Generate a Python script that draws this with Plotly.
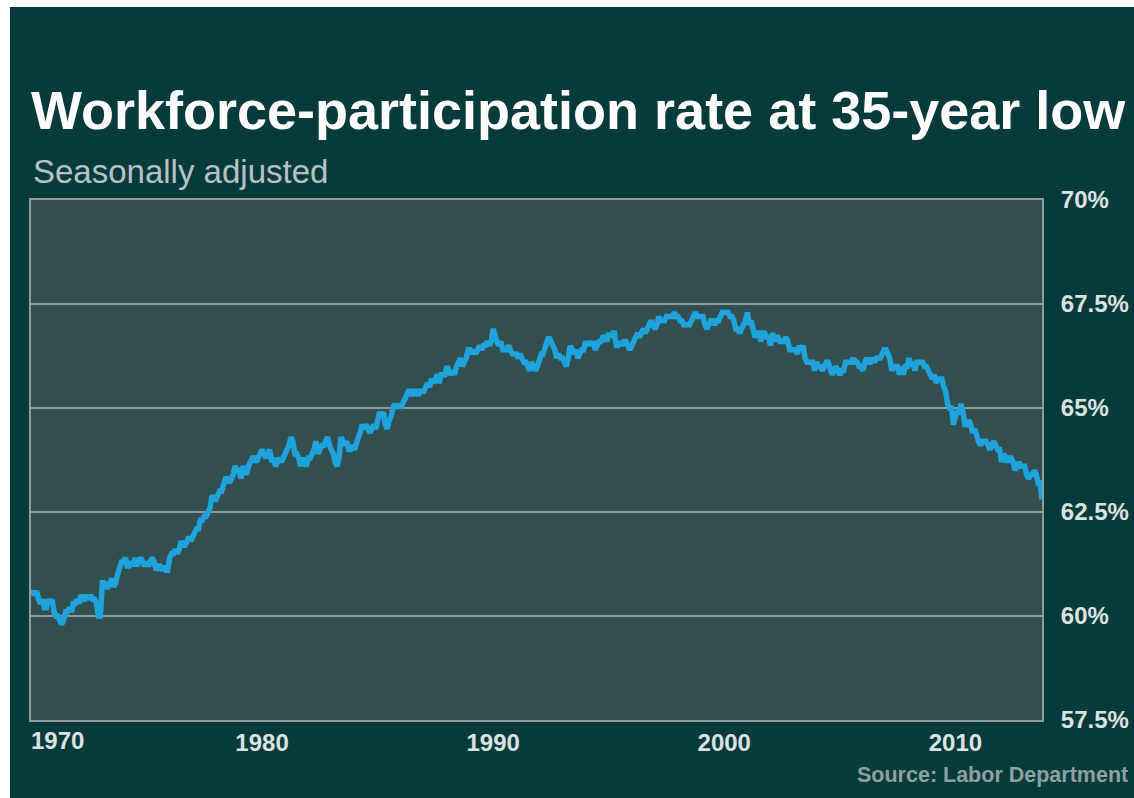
import pandas as pd
import plotly.graph_objects as go

# Civilian labor-force participation rate, monthly, seasonally adjusted (%)
rate_1970s = [
    60.5, 60.6, 60.5, 60.6, 60.4, 60.3, 60.4, 60.2, 60.2, 60.4, 60.3, 60.4,
    60.1, 60.0, 60.0, 59.9, 59.8, 59.9, 60.1, 60.1, 60.2, 60.1, 60.3, 60.3,
    60.4, 60.3, 60.5, 60.4, 60.4, 60.5, 60.4, 60.5, 60.4, 60.4, 60.3, 60.0,
    60.0, 60.8, 60.8, 60.7, 60.7, 60.8, 60.9, 60.7, 60.8, 61.0, 61.2, 61.3,
    61.3, 61.4, 61.2, 61.2, 61.3, 61.2, 61.4, 61.2, 61.3, 61.4, 61.3, 61.2,
    61.3, 61.2, 61.3, 61.4, 61.3, 61.1, 61.2, 61.2, 61.1, 61.2, 61.1, 61.1,
    61.4, 61.5, 61.5, 61.6, 61.5, 61.6, 61.8, 61.7, 61.7, 61.8, 61.9, 61.8,
    61.9, 62.0, 62.1, 62.1, 62.3, 62.3, 62.4, 62.4, 62.5, 62.6, 62.9, 62.8,
    62.8, 62.9, 63.0, 63.0, 63.2, 63.3, 63.3, 63.2, 63.3, 63.4, 63.6, 63.5,
    63.5, 63.3, 63.6, 63.5, 63.4, 63.6, 63.7, 63.8, 63.8, 63.7, 63.8, 63.9,
]
rate_1980s = [
    64.0, 63.9, 63.8, 63.9, 64.0, 63.7, 63.8, 63.6, 63.7, 63.8, 63.7, 63.8,
    63.9, 64.0, 64.1, 64.3, 64.2, 63.9, 63.9, 63.8, 63.6, 63.8, 63.7, 63.6,
    63.8, 63.8, 63.9, 64.0, 64.2, 63.9, 64.0, 64.1, 64.1, 64.2, 64.3, 64.1,
    64.0, 63.9, 63.7, 63.6, 63.8, 64.3, 64.2, 64.1, 64.2, 64.0, 64.0, 64.1,
    64.0, 64.2, 64.3, 64.4, 64.6, 64.5, 64.6, 64.5, 64.4, 64.5, 64.6, 64.5,
    64.8, 64.9, 64.8, 64.9, 64.6, 64.5, 64.7, 64.8, 65.0, 65.1, 65.0, 65.1,
    65.0, 65.1, 65.2, 65.3, 65.4, 65.4, 65.3, 65.4, 65.4, 65.3, 65.4, 65.4,
    65.4, 65.5, 65.6, 65.5, 65.7, 65.6, 65.7, 65.8, 65.6, 65.8, 65.8, 65.8,
    66.0, 65.9, 65.8, 65.9, 65.8, 66.0, 66.1, 66.2, 66.0, 66.1, 66.2, 66.4,
    66.4, 66.3, 66.4, 66.3, 66.4, 66.5, 66.4, 66.5, 66.5, 66.6, 66.5, 66.6,
]
rate_1990s = [
    66.9, 66.7, 66.6, 66.5, 66.6, 66.4, 66.4, 66.4, 66.5, 66.4, 66.3, 66.3,
    66.3, 66.2, 66.3, 66.2, 66.1, 66.1, 66.0, 65.9, 66.1, 66.0, 65.9, 66.0,
    66.2, 66.3, 66.3, 66.5, 66.6, 66.7, 66.6, 66.5, 66.4, 66.2, 66.3, 66.2,
    66.2, 66.1, 66.0, 66.2, 66.5, 66.4, 66.3, 66.4, 66.2, 66.3, 66.4, 66.4,
    66.6, 66.5, 66.6, 66.5, 66.6, 66.4, 66.5, 66.6, 66.6, 66.7, 66.7, 66.6,
    66.8, 66.7, 66.8, 66.8, 66.5, 66.5, 66.6, 66.5, 66.6, 66.6, 66.5, 66.4,
    66.5, 66.6, 66.7, 66.8, 66.7, 66.8, 66.9, 66.8, 66.9, 67.0, 67.1, 67.0,
    66.9, 67.0, 67.2, 67.1, 67.1, 67.1, 67.2, 67.2, 67.2, 67.2, 67.3, 67.2,
    67.2, 67.1, 67.1, 67.0, 67.0, 67.0, 67.0, 67.1, 67.2, 67.3, 67.2, 67.2,
    67.2, 67.2, 67.0, 66.9, 67.0, 67.1, 67.1, 67.0, 67.1, 67.1, 67.2, 67.3,
]
rate_2000s = [
    67.3, 67.3, 67.3, 67.2, 67.2, 67.1, 66.9, 66.9, 66.8, 66.9, 67.0, 67.1,
    67.3, 67.0, 67.1, 66.9, 66.7, 66.8, 66.8, 66.6, 66.8, 66.8, 66.7, 66.7,
    66.5, 66.8, 66.6, 66.7, 66.7, 66.6, 66.6, 66.6, 66.7, 66.6, 66.4, 66.4,
    66.4, 66.4, 66.3, 66.5, 66.4, 66.5, 66.2, 66.1, 66.1, 66.1, 66.1, 65.9,
    66.1, 66.0, 66.0, 65.9, 66.0, 66.1, 66.1, 65.9, 65.8, 65.9, 66.0, 65.9,
    65.8, 65.9, 65.9, 66.1, 66.1, 66.1, 66.1, 66.2, 66.1, 66.1, 66.0, 66.0,
    65.9, 66.1, 66.2, 66.1, 66.1, 66.2, 66.1, 66.2, 66.2, 66.2, 66.3, 66.4,
    66.4, 66.3, 66.2, 65.9, 66.0, 66.0, 66.0, 65.8, 66.0, 65.8, 66.0, 66.0,
    66.2, 66.0, 66.1, 65.9, 66.1, 66.1, 66.1, 66.1, 66.0, 66.0, 65.9, 65.8,
    65.7, 65.8, 65.6, 65.7, 65.7, 65.7, 65.5, 65.4, 65.1, 65.0, 65.0, 64.6,
]
rate_2010s = [
    64.8, 64.9, 64.9, 65.1, 64.9, 64.6, 64.6, 64.7, 64.6, 64.4, 64.5, 64.3,
    64.2, 64.1, 64.2, 64.2, 64.2, 64.1, 64.0, 64.1, 64.2, 64.1, 64.0, 64.0,
    63.7, 63.9, 63.8, 63.7, 63.8, 63.8, 63.7, 63.5, 63.6, 63.7, 63.6, 63.6,
    63.6, 63.4, 63.3, 63.4, 63.4, 63.5, 63.4, 63.2, 63.2, 62.8,
]

rate = rate_1970s + rate_1980s + rate_1990s + rate_2000s + rate_2010s
months = pd.date_range("1970-01-01", periods=len(rate), freq="MS")

y_ticks = [57.5, 60, 62.5, 65, 67.5, 70]
y_labels = ["57.5%", "60%", "62.5%", "65%", "67.5%", "70%"]
x_ticks = ["1980-01-01", "1990-01-01", "2000-01-01", "2010-01-01"]
x_labels = ["1980", "1990", "2000", "2010"]

BG = "#053b3b"
PLOT_BG = "#334e4f"
GRID = "#8e9c9c"
LINE = "#1ea3dc"
TICK_TXT = "#dce2e2"

W, H = 1134, 798
L, R, T, B = 31, 92, 200, 78
PW, PH = W - L - R, H - T - B


def px_x(px):
    return (px - L) / PW


def px_y(py):
    return (H - B - py) / PH


fig = go.Figure()
fig.add_trace(go.Scatter(
    x=months, y=rate, mode="lines",
    line=dict(color=LINE, width=5.5),
    hoverinfo="skip", showlegend=False,
))

tick_font = dict(family="Liberation Sans, Arial, sans-serif", size=24,
                 color=TICK_TXT, weight="bold")

fig.update_layout(
    width=W, height=H, autosize=False,
    margin=dict(l=L, r=R, t=T, b=B, pad=0),
    paper_bgcolor=BG, plot_bgcolor=PLOT_BG,
    xaxis=dict(
        type="date", range=[months[0], months[-1]],
        tickvals=x_ticks, ticktext=x_labels, ticks="",
        showgrid=False, zeroline=False, automargin=False,
        showline=True, mirror=True, linecolor=GRID, linewidth=2,
        tickfont=tick_font, ticklabelstandoff=0,
    ),
    yaxis=dict(
        range=[57.5, 70], side="right",
        tickvals=y_ticks, ticktext=y_labels, ticks="",
        showgrid=True, gridcolor=GRID, gridwidth=2, zeroline=False,
        automargin=False,
        showline=True, mirror=True, linecolor=GRID, linewidth=2,
        tickfont=tick_font, ticklabelstandoff=12,
    ),
    shapes=[
        # white margin strips along the top and left edges
        dict(type="rect", xref="paper", yref="paper",
             x0=px_x(0), x1=px_x(W), y0=px_y(7), y1=px_y(0),
             fillcolor="white", line=dict(width=0), layer="above"),
        dict(type="rect", xref="paper", yref="paper",
             x0=px_x(0), x1=px_x(10), y0=px_y(H), y1=px_y(0),
             fillcolor="white", line=dict(width=0), layer="above"),
    ],
    annotations=[
        dict(text="Workforce-participation rate at 35-year low",
             xref="paper", yref="paper", x=px_x(29), y=px_y(110),
             xanchor="left", yanchor="middle", showarrow=False,
             font=dict(family="Liberation Sans, Arial, sans-serif", size=54,
                       color="white", weight="bold")),
        dict(text="Seasonally adjusted",
             xref="paper", yref="paper", x=px_x(31), y=px_y(171),
             xanchor="left", yanchor="middle", showarrow=False,
             font=dict(family="Liberation Sans, Arial, sans-serif", size=33,
                       color="#b7c3c3")),
        dict(text="1970",
             xref="paper", yref="paper", x=px_x(29), y=px_y(740),
             xanchor="left", yanchor="middle", showarrow=False,
             font=tick_font),
        dict(text="Source: Labor Department",
             xref="paper", yref="paper", x=px_x(1130), y=px_y(775),
             xanchor="right", yanchor="middle", showarrow=False,
             font=dict(family="Liberation Sans, Arial, sans-serif", size=21.5,
                       color="#8ea2a2", weight="bold")),
    ],
)

# keep the page itself from adding margins or scrollbars around the figure
page_style = (
    "document.body.style.margin='0';"
    "document.body.style.overflow='hidden';"
    "document.documentElement.style.overflow='hidden';"
)

fig.write_html("out.html", post_script=page_style)
